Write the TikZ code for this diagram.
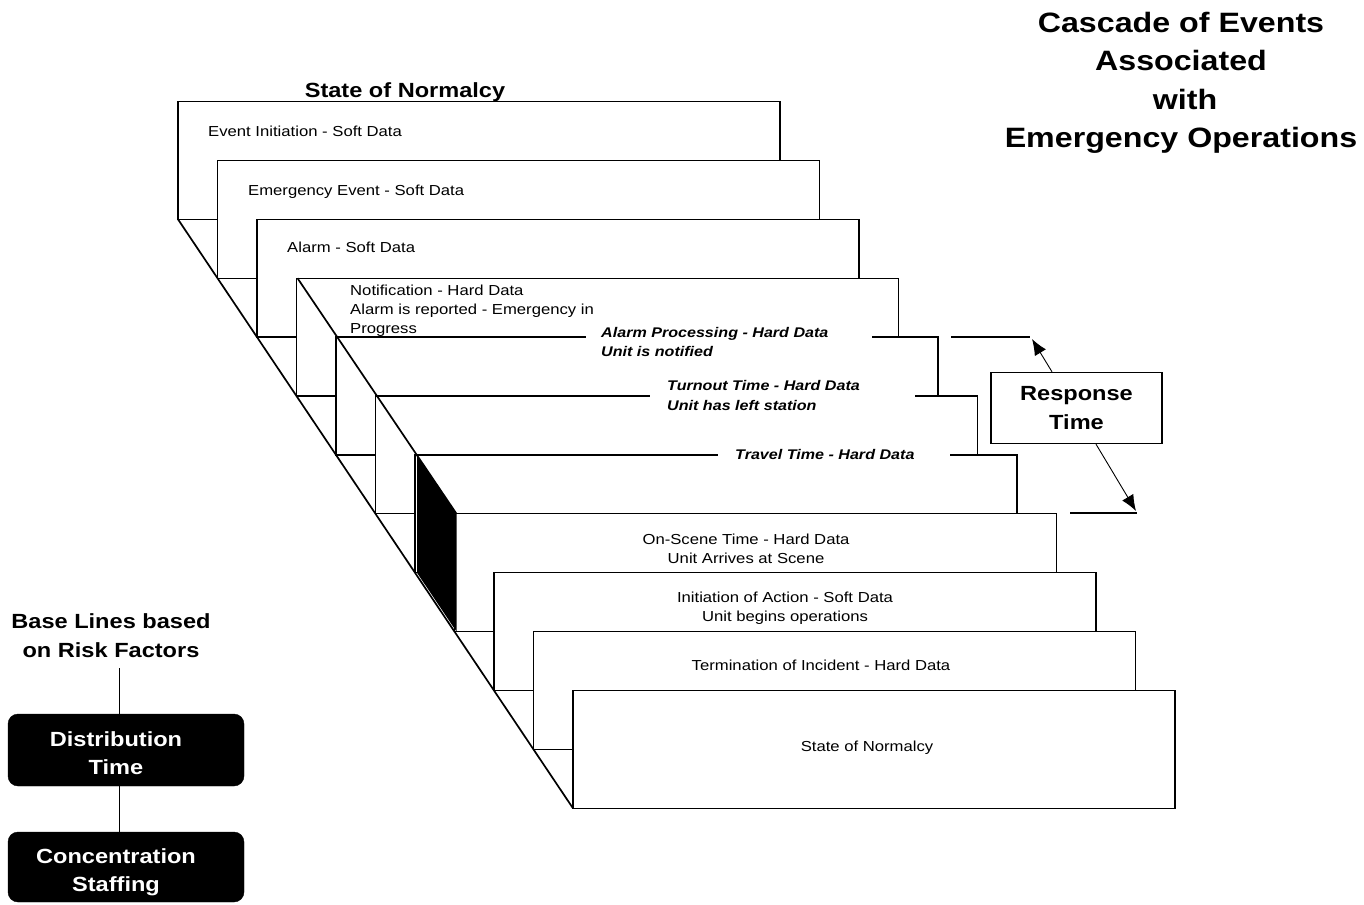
\documentclass[tikz,border=0pt]{standalone}
\usepackage{fontspec}
\setmainfont{Liberation Sans}[FakeStretch=1.15]
\usetikzlibrary{arrows.meta,calc}
\newcommand{\ftxtsmall}{\fontsize{14.5}{19}\selectfont}
\newcommand{\ftxtbi}{\fontsize{14}{19.5}\selectfont\bfseries\itshape}
\newcommand{\ftxttitle}{\fontsize{28}{38.3}\selectfont\bfseries}
\newcommand{\ftxtmid}{\fontsize{20.5}{28.3}\selectfont\bfseries}
\begin{document}
\begin{tikzpicture}[x=1pt,y=-1pt,
  cardline/.style={line width=1.3pt},
  sm/.style={font=\ftxtsmall, inner sep=0pt, align=left},
  bi/.style={font=\ftxtbi, inner sep=0pt, align=left},
  ttl/.style={font=\ftxttitle, inner sep=0pt, align=center},
  mid/.style={font=\ftxtmid, inner sep=0pt, align=center},
  blackbox/.style={draw=black, fill=black, text=white, font=\ftxtmid, rounded corners=10pt,
    minimum width=236pt, align=center, inner sep=0pt},
  arr/.style={line width=0.9pt, -{Latex[length=16pt,width=13pt]}}
]
\useasboundingbox (0,0) rectangle (1364,904);
\fill[white] (0,0) rectangle (1364,904);

% cascade of cards
\foreach \i in {0,...,10}{
  \pgfmathsetmacro\cx{178+39.5*\i}
  \pgfmathsetmacro\cy{101.5+58.9*\i}
  \filldraw[fill=white, cardline] (\cx,\cy) rectangle ++(602,117.8);
}
% gaps in the top lines where the bold labels sit
\fill[white] (586,334.5) rectangle (872,339.7);
\fill[white] (650,393.4) rectangle (915,398.6);
\fill[white] (718,452.3) rectangle (950,457.5);

% diagonals and the black side face
\draw[line width=1.7pt] (178,219.3) -- (573,808.3);
\draw[line width=1.7pt] (297.5,278.2) -- (456.5,513.8);
\fill[black] (417,454.9) -- (456.5,513.8) -- (456.5,631.6) -- (417,572.7) -- cycle;

% card texts (base anchor = baseline of the last line)
\node[sm, anchor=base west] (t1) at (208,136.5) {Event Initiation - Soft Data};
\node[sm, anchor=base west] (t2) at (248,195) {Emergency Event - Soft Data};
\node[sm, anchor=base west] (t3) at (287,252.5) {Alarm - Soft Data};
\node[sm, anchor=base west] (t4) at (350,333) {Notification - Hard Data\\Alarm is reported - Emergency in\\Progress};
\node[bi, anchor=base west] (t5) at (601,356.8) {Alarm Processing - Hard Data\\Unit is notified};
\node[bi, anchor=base west] (t6) at (667,410) {Turnout Time - Hard Data\\Unit has left station};
\node[bi, anchor=base west] (t7) at (735,459.3) {Travel Time - Hard Data};
\node[sm, anchor=base, align=center] (t8) at (746,563) {On-Scene Time - Hard Data\\Unit Arrives at Scene};
\node[sm, anchor=base, align=center] (t9) at (785,621) {Initiation of Action - Soft Data\\Unit begins operations};
\node[sm, anchor=base] (t10) at (821,670) {Termination of Incident - Hard Data};
\node[sm, anchor=base] (t11) at (867,751) {State of Normalcy};
\node[mid, anchor=base] (top) at (405,98) {State of Normalcy};

% title
\node[ttl, anchor=base] (title) at (1181,147.5) {Cascade of Events\\Associated\\\hspace*{8pt}with\\Emergency Operations};

% response time
\node[draw, line width=1.3pt, minimum width=171pt, minimum height=71pt, font=\ftxtmid, align=center, inner sep=0pt] (rt) at (1076.5,408) {Response\\Time};
\coordinate (lvA1) at (951,337);
\coordinate (lvA2) at (1030,337);
\coordinate (lvB1) at (1070,513);
\coordinate (lvB2) at (1137,513);
\draw[cardline] (lvA1) -- (lvA2);
\draw[cardline] (lvB1) -- (lvB2);
\coordinate (tipA) at (1032,339);
\coordinate (tipB) at (1136,511);
\draw[arr] ([xshift=-24.5pt]rt.north) -- (tipA);
\draw[arr] ([xshift=19.5pt]rt.south) -- (tipB);

% left column
\node[mid, anchor=base] (base) at (111,657) {Base Lines based\\on Risk Factors};
\node[blackbox, minimum height=72pt] (dist) at (126,750) {\hspace*{-20pt}\rule{0pt}{21pt}Distribution\\\hspace*{-20pt}Time};
\node[blackbox, minimum height=70pt] (conc) at (126,867) {\hspace*{-20pt}\rule{0pt}{25pt}Concentration\\\hspace*{-20pt}Staffing};
\draw[line width=1pt] ([xshift=-7pt]dist.north) -- ++(0,-46);
\draw[line width=1pt] ([xshift=-7pt]dist.south) -- ([xshift=-7pt]conc.north);
\end{tikzpicture}
\end{document}
